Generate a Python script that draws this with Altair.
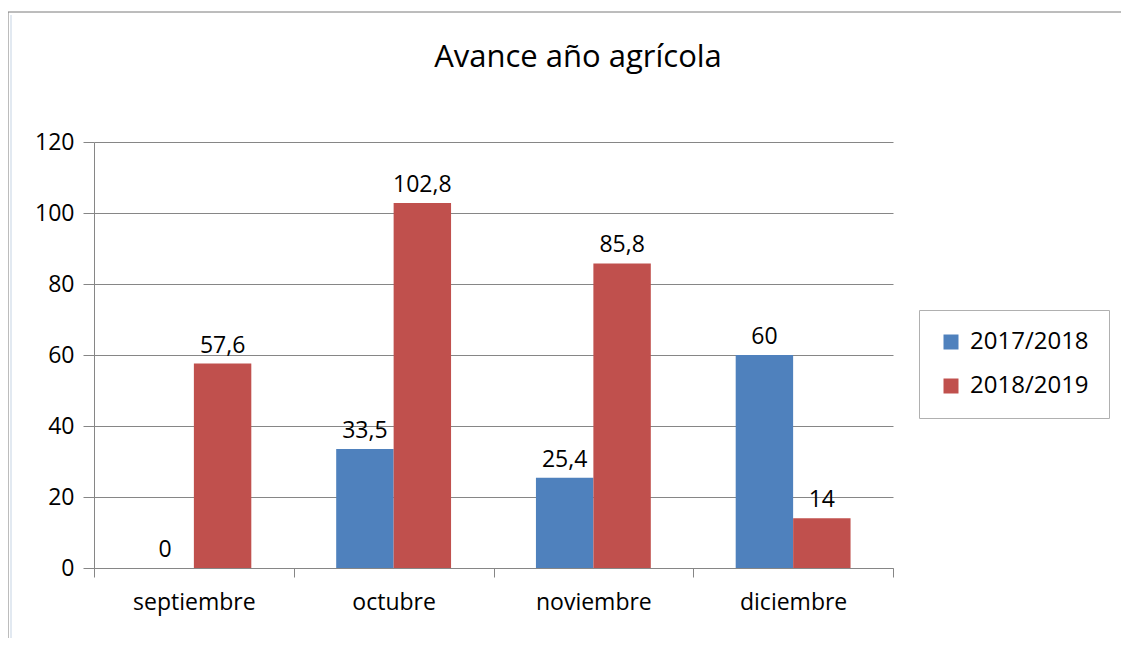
import altair as alt
import pandas as pd

months = ["septiembre", "octubre", "noviembre", "diciembre"]
series_names = ["2017/2018", "2018/2019"]
vals_2017 = [0, 33.5, 25.4, 60]
vals_2018 = [57.6, 102.8, 85.8, 14]
y_ticks = [0, 20, 40, 60, 80, 100, 120]
title_text = ["Avance año agrícola"]

rows = []
for m, a, b in zip(months, vals_2017, vals_2018):
    rows.append({"mes": m, "serie": series_names[0], "valor": a})
    rows.append({"mes": m, "serie": series_names[1], "valor": b})
df = pd.DataFrame(rows)

FONT = "Open Sans"
FS = 23
GRID = "#868686"

x_enc = alt.X("mes:N", sort=months, title=None,
              scale=alt.Scale(paddingInner=0, paddingOuter=0),
              axis=alt.Axis(labelAngle=0, tickBand="extent", tickSize=9, tickColor=GRID,
                            domainColor=GRID, labelFontSize=FS, labelColor="#000000",
                            labelPadding=14, labelFont=FONT, grid=False))
y_enc = alt.Y("valor:Q", title=None,
              scale=alt.Scale(domain=[0, 120], nice=False),
              axis=alt.Axis(values=y_ticks, tickSize=11, tickColor=GRID, domainColor=GRID,
                            gridColor=GRID, gridOpacity=1, labelFontSize=FS,
                            labelColor="#000000", labelPadding=9, labelFont=FONT))
xo = alt.XOffset("serie:N", sort=series_names,
                 scale=alt.Scale(paddingInner=0, paddingOuter=0.739))

base = alt.Chart(df)
bars = base.mark_bar().encode(
    x=x_enc, y=y_enc, xOffset=xo,
    color=alt.Color("serie:N", sort=series_names,
                    scale=alt.Scale(domain=series_names, range=["#4F81BD", "#C0504D"]),
                    legend=alt.Legend(title=None, orient="none", legendX=825, legendY=168,
                                      symbolType="square", symbolSize=225,
                                      symbolStrokeWidth=0, labelFontSize=24,
                                      labelFont=FONT, labelColor="#000000",
                                      rowPadding=20, padding=20, labelOffset=7,
                                      strokeColor="#B0B0B0", fillColor="#FFFFFF")),
)
labels = base.transform_calculate(
    lab="replace(toString(datum.valor), '.', ',')"
).mark_text(baseline="bottom", dy=-6, fontSize=FS, font=FONT, color="#000000").encode(
    x=alt.X("mes:N", sort=months), y="valor:Q", xOffset=xo, text="lab:N"
)

title_df = pd.DataFrame({"t": title_text})
title = alt.Chart(title_df).mark_text(fontSize=31, font=FONT, color="#000000",
                                      baseline="alphabetic", align="center").encode(
    x=alt.value(484), y=alt.value(-75), text="t:N")

frame_df = pd.DataFrame({"k": [0]})
frame_left = alt.Chart(frame_df).mark_rule(color="#7A7A7A", strokeWidth=1).encode(
    x=alt.value(-86), y=alt.value(-130), y2=alt.value(600))
frame_top = alt.Chart(frame_df).mark_rule(color="#7A7A7A", strokeWidth=1).encode(
    x=alt.value(-86), x2=alt.value(1100), y=alt.value(-130))
frame_inner = alt.Chart(frame_df).mark_rule(color="#C5D3E3", strokeWidth=1).encode(
    x=alt.value(-83), y=alt.value(-127), y2=alt.value(600))

chart = alt.layer(frame_left, frame_top, frame_inner, title, bars, labels).properties(
    width=799, height=426,
    autosize=alt.AutoSizeParams(type="none"),
    padding={"left": 86, "top": 134, "right": 228, "bottom": 70},
).configure_view(stroke=None).configure_axis(labelFont=FONT)

chart.save("out.html", embed_options={"renderer": "svg", "actions": False})
